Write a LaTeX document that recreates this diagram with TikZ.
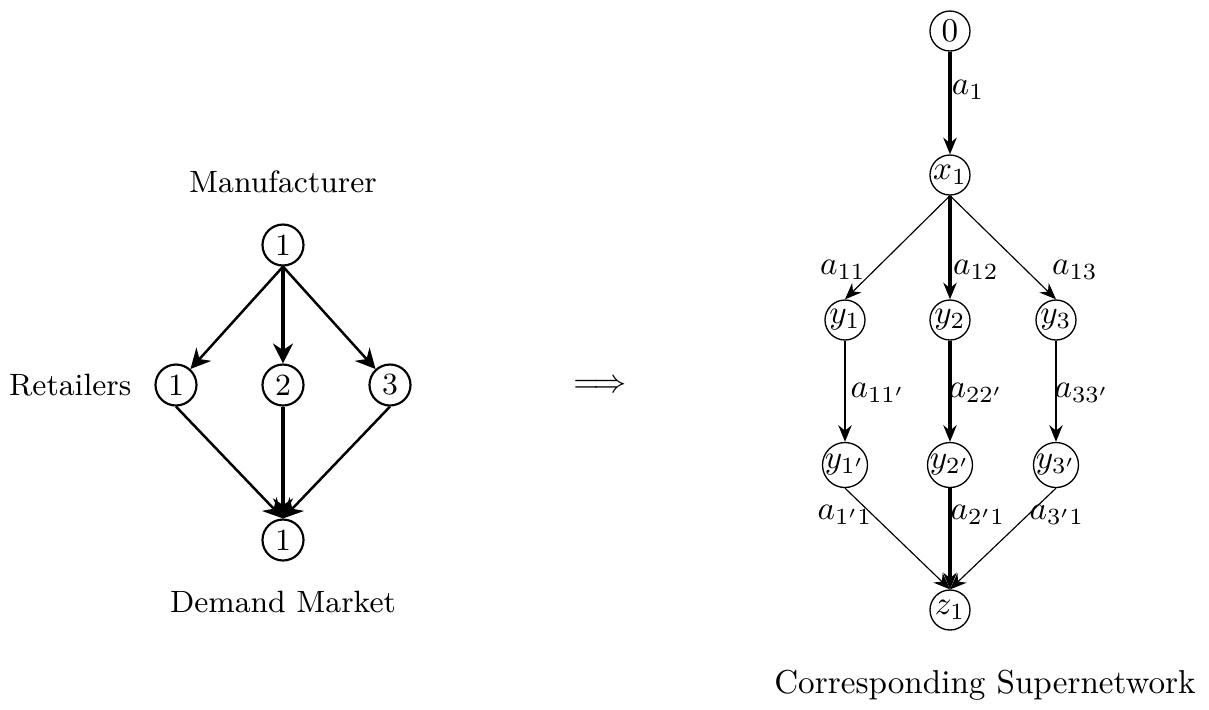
\documentclass[tikz,border=0pt]{standalone}
\usetikzlibrary{arrows.meta}
\begin{document}
\begin{tikzpicture}[x=0.0106cm,y=-0.0106cm,
  ltext/.style={font=\fontsize{9.3}{11}\selectfont},
  lnode/.style={circle,draw,line width=0.65pt,minimum size=41*0.0106cm,inner sep=0pt},
  rnode/.style={circle,draw,line width=0.4pt,minimum size=40*0.0106cm,inner sep=0pt},
  larr/.style={-{Stealth[length=6pt,width=6pt]},line width=0.75pt},
  larrb/.style={-{Stealth[length=6pt,width=6pt]},line width=1.2pt},
  rthin/.style={-{Stealth[length=5pt,width=4pt]},line width=0.35pt},
  rmid/.style={-{Stealth[length=5pt,width=4pt]},line width=0.8pt},
  rthick/.style={-{Stealth[length=5pt,width=4pt]},line width=1.3pt},
  lab/.style={inner sep=1pt}]
\useasboundingbox (0,0) rectangle (1209,709);
% left network
\node[ltext] (man) at (283,182) {Manufacturer};
\node[lnode,ltext] (m) at (283,245) {1};
\node[lnode,ltext] (r1) at (176,385) {1};
\node[lnode,ltext] (r2) at (283,385) {2};
\node[lnode,ltext] (r3) at (390,385) {3};
\node[lnode,ltext] (d) at (283,540) {1};
\node[ltext,anchor=east] (ret) at (143,385) {Retailers};
\node[ltext] (dm) at (283,602) {Demand Market};
\draw[larr] (m.south) -- (r1);
\draw[larrb] (m.south) -- (r2);
\draw[larr] (m.south) -- (r3);
\draw[larr] (r1.south) -- (d.north);
\draw[larrb] (r2.south) -- (d.north);
\draw[larr] (r3.south) -- (d.north);
% implication
\node (imp) at (600,386) {$\Longrightarrow$};
% right network
\node[rnode] (o) at (950,31) {$0$};
\node[rnode] (x1) at (950,175) {$x_1$};
\node[rnode] (y1) at (845,320) {$y_1$};
\node[rnode] (y2) at (950,320) {$y_2$};
\node[rnode] (y3) at (1056,320) {$y_3$};
\node[rnode] (y1p) at (845,465) {$y_{1'}$};
\node[rnode] (y2p) at (950,465) {$y_{2'}$};
\node[rnode] (y3p) at (1056,465) {$y_{3'}$};
\node[rnode] (z1) at (950,610) {$z_1$};
\node (cs) at (985,685) {Corresponding Supernetwork};
\draw[rthick] (o) -- (x1);
\draw[rthin] (x1.south) -- (y1.north);
\draw[rthick] (x1) -- (y2);
\draw[rthin] (x1.south) -- (y3.north);
\draw[rmid] (y1) -- (y1p);
\draw[rthick] (y2) -- (y2p);
\draw[rmid] (y3) -- (y3p);
\draw[rthin] (y1p.south) -- (z1.north);
\draw[rthick] (y2p) -- (z1);
\draw[rthin] (y3p.south) -- (z1.north);
\node[lab] (la1) at (968,90) {$a_1$};
\node[lab] (la11) at (843,270) {$a_{11}$};
\node[lab] (la12) at (976,270) {$a_{12}$};
\node[lab] (la13) at (1075,270) {$a_{13}$};
\node[lab] (la11p) at (878,393) {$a_{11'}$};
\node[lab] (la22p) at (976,393) {$a_{22'}$};
\node[lab] (la33p) at (1082,393) {$a_{33'}$};
\node[lab] (la1p1) at (845,515) {$a_{1'1}$};
\node[lab] (la2p1) at (978,515) {$a_{2'1}$};
\node[lab] (la3p1) at (1057,515) {$a_{3'1}$};
\end{tikzpicture}
\end{document}
